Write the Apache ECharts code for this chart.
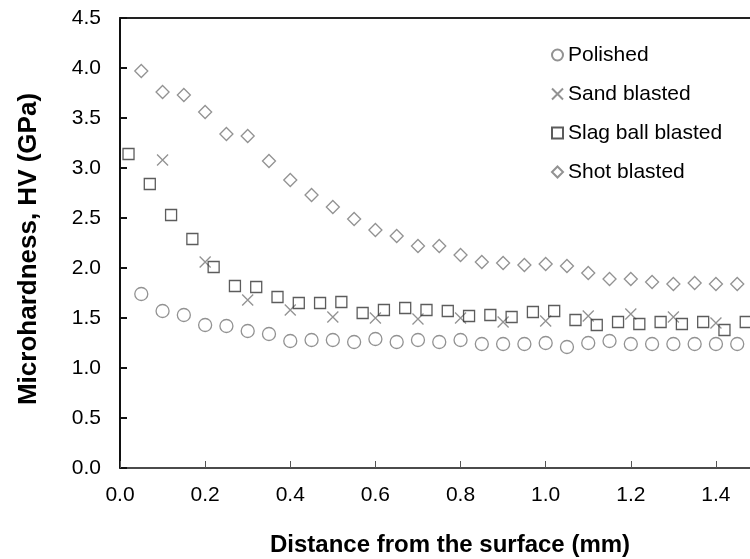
<!DOCTYPE html>
<html>
<head>
<meta charset="utf-8">
<script src="https://cdn.jsdelivr.net/npm/echarts@6/dist/echarts.min.js"></script>
<style>html,body{margin:0;padding:0;background:#fff}#c{width:750px;height:559px}</style>
</head>
<body>
<div id="c"></div>
<script>
const xTicks = [0.0, 0.2, 0.4, 0.6, 0.8, 1.0, 1.2, 1.4];
const yTicks = [0.0, 0.5, 1.0, 1.5, 2.0, 2.5, 3.0, 3.5, 4.0, 4.5];

const polishedX = [0.05,0.10,0.15,0.20,0.25,0.30,0.35,0.40,0.45,0.50,0.55,0.60,0.65,0.70,0.75,0.80,0.85,0.90,0.95,1.00,1.05,1.10,1.15,1.20,1.25,1.30,1.35,1.40,1.45];
const polishedY = [1.74,1.57,1.53,1.43,1.42,1.37,1.34,1.27,1.28,1.28,1.26,1.29,1.26,1.28,1.26,1.28,1.24,1.24,1.24,1.25,1.21,1.25,1.27,1.24,1.24,1.24,1.24,1.24,1.24];

const sandX = [0.10,0.20,0.30,0.40,0.50,0.60,0.70,0.80,0.90,1.00,1.10,1.20,1.30,1.40];
const sandY = [3.08,2.06,1.68,1.58,1.51,1.50,1.49,1.50,1.46,1.47,1.52,1.54,1.51,1.45];

const slagX = [0.02,0.07,0.12,0.17,0.22,0.27,0.32,0.37,0.42,0.47,0.52,0.57,0.62,0.67,0.72,0.77,0.82,0.87,0.92,0.97,1.02,1.07,1.12,1.17,1.22,1.27,1.32,1.37,1.42,1.47];
const slagY = [3.14,2.84,2.53,2.29,2.01,1.82,1.81,1.71,1.65,1.65,1.66,1.55,1.58,1.60,1.58,1.57,1.52,1.53,1.51,1.56,1.57,1.48,1.43,1.46,1.44,1.46,1.44,1.46,1.38,1.46];

const shotX = [0.05,0.10,0.15,0.20,0.25,0.30,0.35,0.40,0.45,0.50,0.55,0.60,0.65,0.70,0.75,0.80,0.85,0.90,0.95,1.00,1.05,1.10,1.15,1.20,1.25,1.30,1.35,1.40,1.45];
const shotY = [3.97,3.76,3.73,3.56,3.34,3.32,3.07,2.88,2.73,2.61,2.49,2.38,2.32,2.22,2.22,2.13,2.06,2.05,2.03,2.04,2.02,1.95,1.89,1.89,1.86,1.84,1.85,1.84,1.84];

const seriesNames = ['Polished','Sand blasted','Slag ball blasted','Shot blasted'];

function pairs(xs, ys){ return xs.map((x,i)=>[x, ys[i]]); }

const FONT = '"Liberation Sans", Arial, sans-serif';
const chart = echarts.init(document.getElementById('c'), null, {renderer:'canvas'});

const mk = (name, xs, ys, symbol, size, color) => ({
  name, type:'scatter', data: pairs(xs, ys), symbol, symbolSize: size,
  itemStyle:{color:'transparent', borderColor: color, borderWidth: 1.3},
  emphasis:{disabled:true}, animation:false, z: 3
});

chart.setOption({
  animation:false,
  grid:{left:120, right:0, top:18, bottom:91, containLabel:false, outerBoundsMode:'none'},
  legend:{
    orient:'vertical', left:546, top:38, itemWidth:11, itemHeight:11, itemGap:15,
    textStyle:{fontFamily:FONT, fontSize:21, color:'#000', lineHeight:24},
    data: seriesNames, selectedMode:false
  },
  xAxis:[{
    type:'value', min:0, max:1.48, interval:0.2,
    name:'Distance from the surface (mm)', nameLocation:'middle', nameGap:65,
    nameTextStyle:{fontFamily:FONT, fontSize:24, fontWeight:'bold', color:'#000', padding:[0,0,0,30]},
    axisLine:{show:true, lineStyle:{color:'#111', width:1.5}},
    axisTick:{show:true, inside:true, length:7, lineStyle:{color:'#555', width:1}},
    axisLabel:{fontFamily:FONT, fontSize:21, color:'#000', margin:17, showMaxLabel:false,
      formatter: v => xTicks.some(t => Math.abs(t - v) < 1e-6) ? v.toFixed(1) : ''},
    splitLine:{show:false}
  },{
    type:'value', position:'top', min:0, max:1.48,
    axisLine:{show:true, lineStyle:{color:'#222', width:2}},
    axisTick:{show:false}, axisLabel:{show:false}, splitLine:{show:false}
  }],
  yAxis:{
    type:'value', min:0, max:4.5, interval:0.5,
    name:'Microhardness, HV (GPa)', nameLocation:'middle', nameGap:78,
    nameTextStyle:{fontFamily:FONT, fontSize:26, fontWeight:'bold', color:'#000', padding:[0,0,0,-12]},
    axisLine:{show:true, lineStyle:{color:'#111', width:2}},
    axisTick:{show:true, inside:true, length:7, lineStyle:{color:'#111', width:2}},
    axisLabel:{fontFamily:FONT, fontSize:21, color:'#000', margin:19,
      formatter: v => yTicks.some(t => Math.abs(t - v) < 1e-6) ? v.toFixed(1) : ''},
    splitLine:{show:false}
  },
  series:[
    mk(seriesNames[0], polishedX, polishedY, 'circle', 13, '#777'),
    mk(seriesNames[1], sandX, sandY, 'path://M0,0L10,10M10,0L0,10', 11, '#777'),
    mk(seriesNames[2], slagX, slagY, 'rect', 11, '#333'),
    mk(seriesNames[3], shotX, shotY, 'diamond', 13, '#777')
  ]
});
</script>
</body>
</html>
